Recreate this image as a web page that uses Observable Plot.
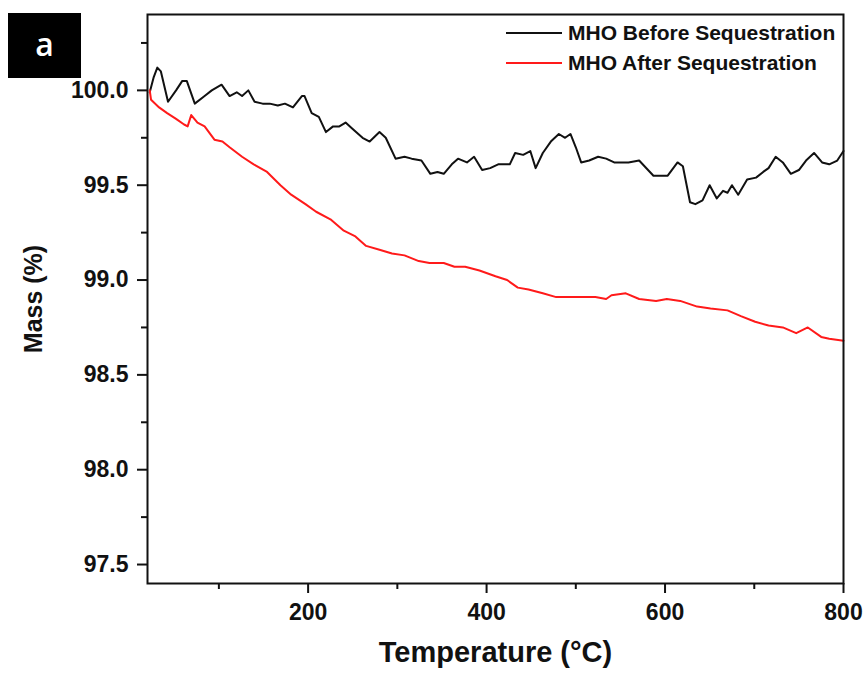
<!DOCTYPE html>
<html>
<head>
<meta charset="utf-8">
<script src="https://cdn.jsdelivr.net/npm/d3@7"></script>
<script src="https://cdn.jsdelivr.net/npm/@observablehq/plot@0.6"></script>
<style>
  body { margin: 0; background: #fff; }
  #wrap { position: relative; width: 864px; height: 677px; font-family: "Liberation Sans", Arial, sans-serif; }
  #panel { position: absolute; left: 8px; top: 13px; width: 73px; height: 65px; background: #000; color: #fff;
           font-family: "Open Sans", sans-serif; font-weight: 600; font-size: 32px; line-height: 62px; text-align: center; }
  #legend { position: absolute; left: 506px; top: 18px; font-weight: bold; font-size: 21px; color: #111; }
  #legend .row { display: flex; align-items: center; height: 30px; }
  #legend svg { margin-right: 6px; }
</style>
</head>
<body>
<div id="wrap">
  <div id="chart"></div>
  <div id="panel">a</div>
  <div id="legend"></div>
</div>
<script>
// Temperature (°C) and mass (%)
const beforeT = [22.5,27,31,35,43,52,59,64,73,84,92,103,112,120,126,133,140,149,157,166,174,183,193,196,204,212,220,228,235,242,249,261,269,280,287,298,308,316,327,337,345,352,361,368,378,386,395,404,413,426,432,441,449,455,463,472,481,488,494,500,506,515,525,534,543,559,571,577,587,603,614,620,628,634,642,650,658,665,670,675,682,692,702,710,716,724,732,741,750,758,767,776,784,793,800];
const beforeM = [99.99,100.07,100.12,100.10,99.94,100.0,100.05,100.05,99.93,99.97,100.0,100.03,99.97,99.99,99.97,100.0,99.94,99.93,99.93,99.92,99.93,99.91,99.97,99.97,99.88,99.86,99.78,99.81,99.81,99.83,99.80,99.75,99.73,99.78,99.75,99.64,99.65,99.64,99.63,99.56,99.57,99.56,99.61,99.64,99.62,99.65,99.58,99.59,99.61,99.61,99.67,99.66,99.68,99.59,99.67,99.73,99.77,99.75,99.77,99.70,99.62,99.63,99.65,99.64,99.62,99.62,99.63,99.60,99.55,99.55,99.62,99.60,99.41,99.40,99.42,99.50,99.43,99.47,99.46,99.50,99.45,99.53,99.54,99.57,99.59,99.65,99.62,99.56,99.58,99.63,99.67,99.62,99.61,99.63,99.68];

const afterT = [22.5,24,33,42,52,61,65,69,76,84,95,104,112,126,139,154,169,181,197,209,225,240,253,265,280,294,308,324,336,352,364,376,392,410,423,435,447,463,478,491,506,522,534,540,556,571,590,602,617,636,651,670,685,701,716,732,747,760,775,784,800];
const afterM = [100.0,99.95,99.91,99.88,99.85,99.82,99.81,99.87,99.83,99.81,99.74,99.73,99.70,99.65,99.61,99.57,99.50,99.45,99.40,99.36,99.32,99.26,99.23,99.18,99.16,99.14,99.13,99.10,99.09,99.09,99.07,99.07,99.05,99.02,99.00,98.96,98.95,98.93,98.91,98.91,98.91,98.91,98.90,98.92,98.93,98.90,98.89,98.90,98.89,98.86,98.85,98.84,98.81,98.78,98.76,98.75,98.72,98.75,98.70,98.69,98.68];

const seriesNames = ["MHO Before Sequestration", "MHO After Sequestration"];
const seriesColors = ["#111111", "#ff1a1a"];
const xTicks = [200, 400, 600, 800];
const xMinor = [100, 300, 500, 700];
const yTicks = [97.5, 98.0, 98.5, 99.0, 99.5, 100.0];
const yMinor = [97.75, 98.25, 98.75, 99.25, 99.75, 100.25];
const xTitle = "Temperature (°C)";
const yTitle = "Mass (%)";

const before = beforeT.map((t, i) => ({T: t, M: beforeM[i]}));
const after = afterT.map((t, i) => ({T: t, M: afterM[i]}));

const chart = Plot.plot({
  width: 864,
  height: 677,
  marginLeft: 147,
  marginRight: 21,
  marginTop: 14,
  marginBottom: 94,
  style: {fontFamily: "Liberation Sans, Arial, sans-serif", fontWeight: "bold", fontSize: "23px", color: "#111", background: "#fff"},
  x: {domain: [20, 800]},
  y: {domain: [97.4, 100.4]},
  marks: [
    Plot.axisX({ticks: xTicks, tickSize: 10, tickPadding: 10, tickFormat: d3.format("d"), label: null, strokeWidth: 2}),
    Plot.axisX({ticks: xMinor, tickSize: 6, text: null, label: null, strokeWidth: 2}),
    Plot.axisY({ticks: yTicks, tickSize: 10, tickPadding: 9, tickFormat: d3.format(".1f"), label: null, strokeWidth: 2}),
    Plot.axisY({ticks: yMinor, tickSize: 6, text: null, label: null, strokeWidth: 2}),
    Plot.line(before, {x: "T", y: "M", stroke: seriesColors[0], strokeWidth: 2}),
    Plot.line(after, {x: "T", y: "M", stroke: seriesColors[1], strokeWidth: 2}),
    Plot.frame({stroke: "#111", strokeWidth: 2}),
    Plot.text([xTitle], {text: d => d, frameAnchor: "bottom", dy: 78, fontSize: 29, fontWeight: "bold", fill: "#111"}),
    Plot.text([yTitle], {text: d => d, frameAnchor: "left", textAnchor: "middle", dx: -114, rotate: -90, fontSize: 25, fontWeight: "bold", fill: "#111"})
  ]
});
document.getElementById("chart").appendChild(chart);

const legend = document.getElementById("legend");
seriesNames.forEach((name, i) => {
  const row = document.createElement("div");
  row.className = "row";
  row.innerHTML = `<svg width="56" height="4"><line x1="0" y1="2" x2="56" y2="2" stroke="${seriesColors[i]}" stroke-width="2"/></svg><span>${name}</span>`;
  legend.appendChild(row);
});
</script>
</body>
</html>
